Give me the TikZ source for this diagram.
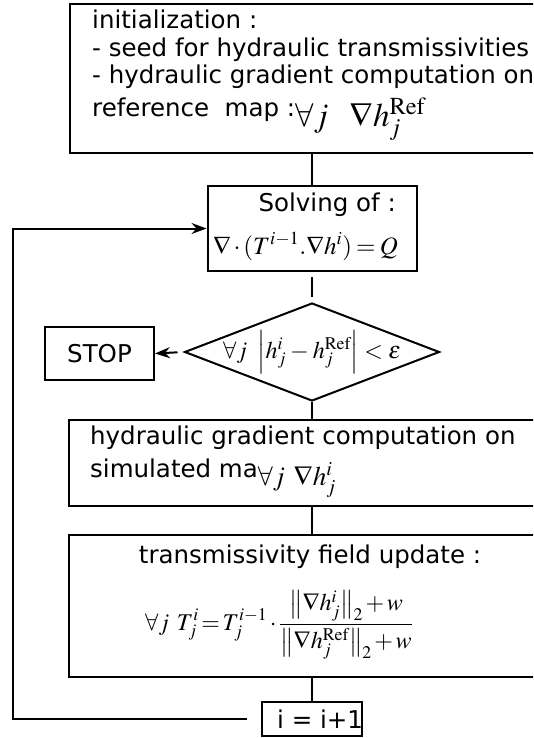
\documentclass[tikz,border=0pt]{standalone}
\usepackage{amsmath}
\usepackage{mathptmx}
\usepackage[no-math]{fontspec}
\setmainfont{DejaVu Sans}
\usepackage{tikz}
\usetikzlibrary{shapes.geometric,arrows.meta,positioning,calc}
\newcommand{\boxfont}{\fontsize{24.5}{27.5}\selectfont}
\newcommand{\eqfont}{\fontsize{23}{27}\selectfont}
\tikzset{
  flowbox/.style={rectangle,draw=black,line width=2pt,inner sep=0pt,font=\boxfont},
  flowtext/.style={inner sep=0pt,font=\boxfont},
  testbox/.style={diamond,draw=black,line width=2pt,inner sep=0pt,
    minimum width=255pt,minimum height=98pt},
  flowline/.style={line width=2pt},
  flowarrow/.style={flowline,-{Stealth[length=15pt,width=11pt,inset=5pt]}}
}

\begin{document}
\begin{tikzpicture}[x=1pt,y=-1pt]
  \useasboundingbox (0,0) rectangle (533,738);
  \clip (0,0) rectangle (533,738);
  \node[flowbox,anchor=north west,minimum width=520pt,minimum height=149pt] (init) at (69,3) {};
  \node[flowtext,anchor=north west,align=left] (initT) at (92,10) {initialization :\\- seed for hydraulic transmissivities\\- hydraulic gradient computation on\\[5pt]reference\ \ map :\raisebox{-10pt}{\fontsize{33}{36}\selectfont$\forall j\ \ \nabla h_j^{\mathrm{Ref}}$}};
  \node[flowbox,minimum width=209pt,minimum height=85pt] (solve) at (312,228.5) {};
  \node[flowtext,anchor=base east] (solveT) at (396,211) {Solving of :};
  \node[flowtext,anchor=base east] (solveEq) at (398,254) {\fontsize{25}{28}\selectfont\medmuskip=2mu\thickmuskip=3mu$\nabla\cdot(T^{i-1}.\nabla h^i)=Q$};
  \node[testbox] (test) at (312,352) {};
  \node[flowtext] (testT) at (312,352) {\fontsize{24}{28}\selectfont\medmuskip=3mu\thickmuskip=4mu$\forall j\ \left|h_j^i-h_j^{\mathrm{Ref}}\right|<\varepsilon$};
  \node[flowbox,minimum width=109pt,minimum height=53pt] (stop) at (99.5,353.5) {STOP};
  \node[flowbox,anchor=north west,minimum width=520pt,minimum height=86pt] (grad) at (68,419) {};
  \node[flowtext,anchor=north west,align=left] (gradT) at (90,426) {hydraulic gradient computation on\\[5pt]simulated ma\raisebox{-8pt}{\fontsize{27}{30}\selectfont$\forall j\ \nabla h_j^i$}};
  \node[flowbox,anchor=north west,minimum width=520pt,minimum height=142pt] (update) at (68,534) {};
  \node[flowtext,anchor=base] (updateT) at (310,563) {transmissivity field update :};
  \node[flowtext] (updateEq) at (279,625) {\fontsize{24}{28}\selectfont\thickmuskip=2mu\medmuskip=2mu$\displaystyle\forall j\ T_j^i=T_j^{i-1}\cdot\frac{\bigl\|\nabla h_j^i\bigr\|_2+w}{\bigl\|\nabla h_j^{\mathrm{Ref}}\bigr\|_2+w}$};
  \node[flowbox,minimum width=100pt,minimum height=34pt] (incr) at (312,719) {};
  \node[flowtext,anchor=west] (incrT) at (277,719) {i = i+1};
  \coordinate (loop) at (13,0);
  \draw[flowline] (solve.north |- init.south) -- (solve.north);
  \draw[flowline,shorten <=5pt,shorten >=5pt] (solve.south) -- (test.north);
  \draw[flowline] (test.south) -- (test.south |- grad.north);
  \draw[flowline] (test.south |- grad.south) -- (test.south |- update.north);
  \draw[flowline] (test.south |- update.south) -- (incr.north);
  \draw[flowarrow,shorten <=6pt] (test.west) -- (stop.east);
  \draw[flowarrow,shorten <=14pt] (incr.west) -| (loop |- solve.west) -- (solve.west);
\end{tikzpicture}
\end{document}
